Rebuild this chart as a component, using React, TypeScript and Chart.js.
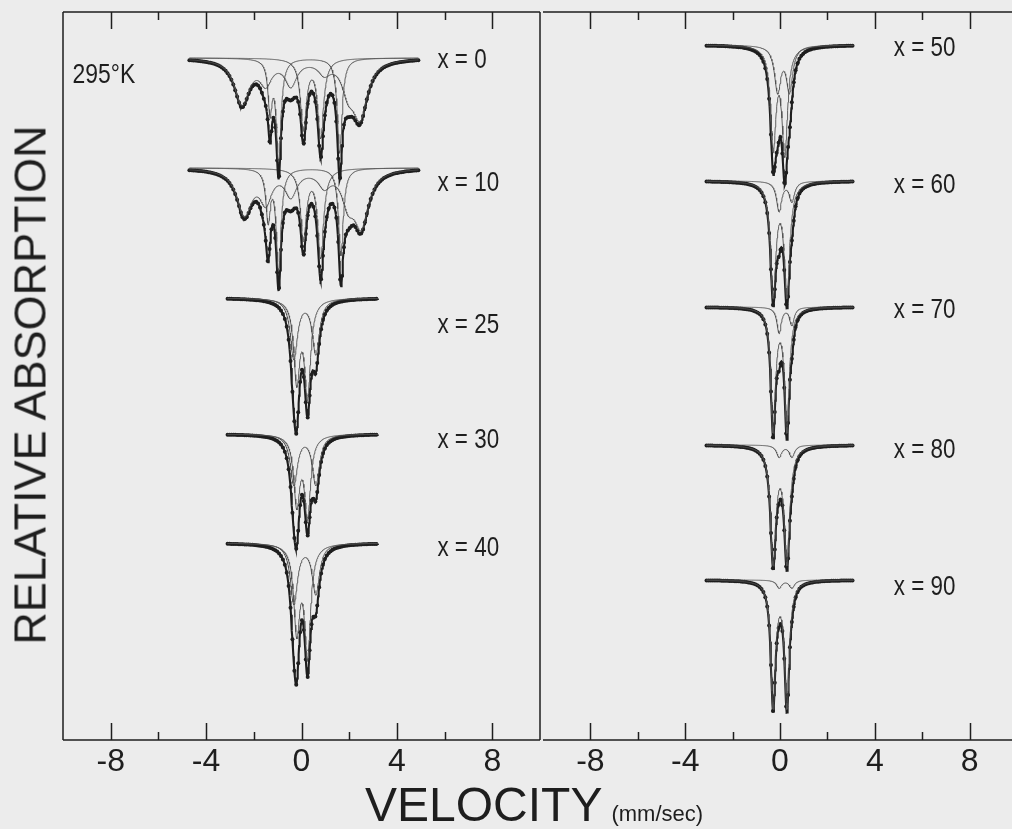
import React, { useEffect, useRef } from 'react';
import { Chart, registerables } from 'chart.js';

Chart.register(...registerables);

const INK = '#1e1e1e';
const COMPONENT_INK = '#505050';
const PAPER = '#ececec';
const SANS = '"Liberation Sans", Arial, sans-serif';

// Velocity axis (mm/sec)
const VELOCITY_TICKS = [-10, -8, -6, -4, -2, 0, 2, 4, 6, 8, 10];
const LABELLED_TICKS = [-8, -4, 0, 4, 8];
const VELOCITY_STEP = 0.02;

// Spectra, one per composition
const LEFT_LABELS = ['x = 0', 'x = 10', 'x = 25', 'x = 30', 'x = 40'];
const RIGHT_LABELS = ['x = 50', 'x = 60', 'x = 70', 'x = 80', 'x = 90'];
const LEFT_BASELINES = [46, 156, 286, 422, 531];
const RIGHT_BASELINES = [33, 169, 295, 433, 568];
const LEFT_RANGES = [[-4.7, 4.9], [-4.7, 4.9], [-3.1, 3.2], [-3.1, 3.2], [-3.1, 3.2]];
const RIGHT_RANGES = [[-3.1, 3.1], [-3.1, 3.1], [-3.1, 3.1], [-3.1, 3.1], [-3.1, 3.1]];
const LEFT_LABEL_LEVELS = [48, 171, 313, 428, 536];
const RIGHT_LABEL_LEVELS = [36, 173, 298, 438, 575];
const LEFT_LABEL_VELOCITY = 5.7;
const RIGHT_LABEL_VELOCITY = 4.8;
const TEMPERATURE_LABEL = '295°K';
const Y_TITLE = 'RELATIVE ABSORPTION';
const X_TITLE = 'VELOCITY';
const X_UNIT = '(mm/sec)';

// Absorption lines: [velocity mm/s, depth, half width mm/s, sub-spectrum]
const X0_LINES = [
  [-2.5, 45, 0.38, 0], [-1.5, 22, 0.3, 0], [-0.45, 25, 0.3, 0], [0.95, 12, 0.3, 0], [1.95, 25, 0.3, 0], [2.45, 56, 0.38, 0],
  [-1.32, 50, 0.1, 1], [-0.96, 100, 0.12, 1], [1.6, 95, 0.12, 1],
  [0.08, 70, 0.15, 2], [0.8, 78, 0.15, 2],
];
const X10_LINES = [
  [-2.4, 45, 0.38, 0], [-1.5, 30, 0.3, 0], [-0.45, 25, 0.3, 0], [0.95, 15, 0.3, 0], [1.95, 28, 0.3, 0], [2.5, 55, 0.38, 0],
  [-1.4, 50, 0.11, 1], [-0.96, 100, 0.12, 1], [1.65, 88, 0.12, 1],
  [0.08, 70, 0.15, 2], [0.8, 88, 0.15, 2],
];
const X25_LINES = [[-0.32, 60, 0.18, 0], [0.6, 55, 0.18, 0], [-0.2, 80, 0.15, 1], [0.25, 95, 0.15, 1]];
const X30_LINES = [[-0.32, 50, 0.18, 0], [0.6, 50, 0.18, 0], [-0.2, 68, 0.15, 1], [0.25, 80, 0.15, 1]];
const X40_LINES = [[-0.32, 60, 0.18, 0], [0.6, 50, 0.18, 0], [-0.2, 85, 0.15, 1], [0.25, 110, 0.15, 1]];
const X50_LINES = [[-0.1, 45, 0.16, 0], [0.4, 45, 0.16, 0], [-0.29, 100, 0.14, 1], [0.2, 105, 0.14, 1]];
const X60_LINES = [[-0.04, 30, 0.13, 0], [0.5, 20, 0.13, 0], [-0.29, 112, 0.14, 1], [0.29, 112, 0.14, 1]];
const X70_LINES = [[-0.04, 26, 0.11, 0], [0.5, 18, 0.11, 0], [-0.29, 122, 0.12, 1], [0.29, 122, 0.12, 1]];
const X80_LINES = [[-0.04, 12, 0.13, 0], [0.5, 12, 0.13, 0], [-0.29, 115, 0.14, 1], [0.29, 115, 0.14, 1]];
const X90_LINES = [[-0.04, 8, 0.13, 0], [0.5, 8, 0.13, 0], [-0.29, 125, 0.12, 1], [0.29, 125, 0.12, 1]];

const LEFT_LINES = [X0_LINES, X10_LINES, X25_LINES, X30_LINES, X40_LINES];
const RIGHT_LINES = [X50_LINES, X60_LINES, X70_LINES, X80_LINES, X90_LINES];

function absorption(v: number, lines: number[][], sub?: number) {
  let s = 0;
  for (const [p, d, w, c] of lines) {
    if (sub !== undefined && c !== sub) continue;
    const u = (v - p) / w;
    s += d / (1 + u * u);
  }
  return s;
}

function velocityGrid(range: number[]) {
  const n = Math.round((range[1] - range[0]) / VELOCITY_STEP);
  const out: number[] = [];
  for (let i = 0; i <= n; i++) out.push(+(range[0] + i * VELOCITY_STEP).toFixed(3));
  return out;
}

function spectrumDatasets(lines: number[][], base: number, range: number[]) {
  const grid = velocityGrid(range);
  const subs = Array.from(new Set(lines.map((l) => l[3])));
  const sets: any[] = subs.map((c) => ({
    data: grid.map((v) => ({ x: v, y: base + absorption(v, lines, c) })),
    borderColor: COMPONENT_INK,
    borderWidth: 0.9,
    pointRadius: 0,
    fill: false,
  }));
  sets.push({
    data: grid.map((v) => ({ x: v, y: base + absorption(v, lines) })),
    borderColor: INK,
    borderWidth: 2.1,
    pointRadius: (ctx: any) => (ctx.dataIndex % 4 === 0 ? 2 : 0),
    pointBackgroundColor: INK,
    pointBorderWidth: 0,
    fill: false,
  });
  return sets;
}

const framePlugin = {
  id: 'frame',
  afterDatasetsDraw(chart: any, _args: any, opts: any) {
    const { ctx, chartArea: a, scales } = chart;
    const x = scales.x;
    ctx.save();
    ctx.strokeStyle = INK;
    ctx.lineWidth = 1.5;
    ctx.beginPath();
    ctx.moveTo(a.left, a.top); ctx.lineTo(a.right, a.top);
    ctx.moveTo(a.left, a.bottom); ctx.lineTo(a.right, a.bottom);
    if (opts.left) { ctx.moveTo(a.left, a.top); ctx.lineTo(a.left, a.bottom); }
    if (opts.right) { ctx.moveTo(a.right, a.top); ctx.lineTo(a.right, a.bottom); }
    for (const t of x.ticks) {
      if (Math.abs(t.value) >= 10) continue;
      const px = Math.round(x.getPixelForValue(t.value)) + 0.5;
      const len = LABELLED_TICKS.includes(t.value) ? 17 : 8;
      ctx.moveTo(px, a.bottom); ctx.lineTo(px, a.bottom - len);
      ctx.moveTo(px, a.top); ctx.lineTo(px, a.top + len);
    }
    ctx.stroke();
    ctx.restore();
  },
};

const labelPlugin = {
  id: 'spectrumLabels',
  afterDatasetsDraw(chart: any, _args: any, opts: any) {
    const { ctx, scales } = chart;
    for (const item of opts.items) {
      ctx.save();
      ctx.fillStyle = INK;
      ctx.textBaseline = 'middle';
      ctx.textAlign = 'left';
      ctx.font = `${item.size}px ${SANS}`;
      ctx.translate(scales.x.getPixelForValue(item.v), scales.y.getPixelForValue(item.level));
      ctx.scale(item.squeeze, 1);
      ctx.fillText(item.text, 0, 0);
      ctx.restore();
    }
  },
};

function buildConfig(side: 'left' | 'right'): any {
  const isLeft = side === 'left';
  const lines = isLeft ? LEFT_LINES : RIGHT_LINES;
  const bases = isLeft ? LEFT_BASELINES : RIGHT_BASELINES;
  const ranges = isLeft ? LEFT_RANGES : RIGHT_RANGES;
  const labels = isLeft ? LEFT_LABELS : RIGHT_LABELS;
  const levels = isLeft ? LEFT_LABEL_LEVELS : RIGHT_LABEL_LEVELS;
  const labelV = isLeft ? LEFT_LABEL_VELOCITY : RIGHT_LABEL_VELOCITY;

  const datasets: any[] = [];
  lines.forEach((l, i) => datasets.push(...spectrumDatasets(l, bases[i], ranges[i])));

  const items = labels.map((t, i) => ({ text: t, v: labelV, level: levels[i], size: 28, squeeze: 0.8 }));
  if (isLeft) items.push({ text: TEMPERATURE_LABEL, v: -9.6, level: 64, size: 27, squeeze: 0.85 });

  return {
    type: 'line',
    data: { datasets },
    plugins: [framePlugin, labelPlugin],
    options: {
      responsive: false,
      animation: false,
      devicePixelRatio: 1,
      layout: { autoPadding: false, padding: { top: 12, left: 0, right: 0, bottom: 0 } },
      elements: { line: { tension: 0 } },
      plugins: {
        legend: { display: false },
        tooltip: { enabled: false },
        frame: { left: isLeft, right: isLeft },
        spectrumLabels: { items },
      },
      scales: {
        x: {
          type: 'linear',
          min: -10,
          max: 10,
          afterBuildTicks: (s: any) => { s.ticks = VELOCITY_TICKS.map((v) => ({ value: v })); },
          afterFit: (s: any) => { s.height = 89; },
          grid: { display: false, drawTicks: false },
          border: { display: false },
          ticks: {
            autoSkip: false,
            maxRotation: 0,
            padding: 3,
            color: INK,
            font: { family: SANS, size: 32 },
            callback: (v: number) => (LABELLED_TICKS.includes(v) ? String(v) : ''),
          },
        },
        y: {
          type: 'linear',
          min: 0,
          max: 728,
          reverse: true,
          display: isLeft,
          afterFit: (s: any) => { s.width = isLeft ? 63 : 0; },
          grid: { display: false },
          border: { display: false },
          ticks: { display: false },
        },
      },
    },
  };
}

export default function App() {
  const leftRef = useRef<HTMLCanvasElement>(null);
  const rightRef = useRef<HTMLCanvasElement>(null);

  useEffect(() => {
    const left = new Chart(leftRef.current as HTMLCanvasElement, buildConfig('left'));
    const right = new Chart(rightRef.current as HTMLCanvasElement, buildConfig('right'));
    return () => {
      left.destroy();
      right.destroy();
    };
  }, []);

  return (
    <div style={{ position: 'absolute', left: 0, top: 0, width: 1012, height: 829, overflow: 'hidden', background: PAPER }}>
      <canvas ref={rightRef} width={480} height={829} style={{ position: 'absolute', left: 540, top: 0, width: 480, height: 829 }} />
      <canvas ref={leftRef} width={543} height={829} style={{ position: 'absolute', left: 0, top: 0, width: 543, height: 829 }} />
      <div
        style={{
          position: 'absolute', left: 30, top: 385, whiteSpace: 'nowrap',
          fontFamily: SANS, fontSize: 45, lineHeight: '45px', color: INK,
          transform: 'translate(-50%, -50%) rotate(-90deg)',
        }}
      >
        {Y_TITLE}
      </div>
      <div
        style={{
          position: 'absolute', left: 365, top: 781, whiteSpace: 'nowrap',
          fontFamily: SANS, fontSize: 48, lineHeight: '48px', color: INK,
        }}
      >
        {X_TITLE}<span style={{ fontSize: 22, marginLeft: 9 }}>{X_UNIT}</span>
      </div>
    </div>
  );
}
